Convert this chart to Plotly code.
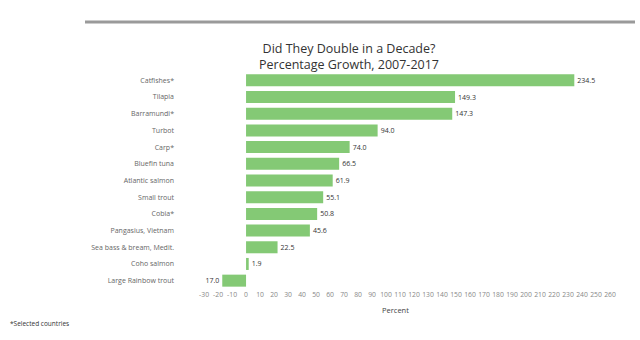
import plotly.graph_objects as go

species = ["Catfishes*", "Tilapia", "Barramundi*", "Turbot", "Carp*", "Bluefin tuna",
           "Atlantic salmon", "Small trout", "Cobia*", "Pangasius, Vietnam",
           "Sea bass & bream, Medit.", "Coho salmon", "Large Rainbow trout"]
growth = [234.5, 149.3, 147.3, 94.0, 74.0, 66.5, 61.9, 55.1, 50.8, 45.6, 22.5, 1.9, -17.0]
tick_vals = list(range(-30, 270, 10))
tick_text = [str(v) for v in tick_vals]

labels = [f"{abs(v):.1f}" for v in growth]

fig = go.Figure(go.Bar(
    x=growth, y=species, orientation="h",
    marker=dict(color="#84C975", line=dict(width=0)),
    text=labels, textposition="outside", cliponaxis=False,
    textfont=dict(size=7, color="#333333", family="Open Sans"),
))

fig.update_layout(
    width=640, height=340,
    margin=dict(l=200, r=23, t=72, b=51),
    paper_bgcolor="white", plot_bgcolor="white",
    bargap=0.28,
    showlegend=False,
    font=dict(family="Open Sans", color="#555555"),
    title=dict(text="Did They Double in a Decade?<br>Percentage Growth, 2007-2017",
               x=349 / 640, xanchor="center", y=1 - 53 / 340, yanchor="middle",
               font=dict(size=12.5, color="#333333", family="Open Sans")),
    xaxis=dict(range=[-32.9, 265], tickvals=tick_vals, ticktext=tick_text,
               showgrid=False, zeroline=False, showline=False, ticks="", tickangle=0,
               tickfont=dict(size=6.8, color="#888888")),
    yaxis=dict(autorange="reversed", showgrid=False, zeroline=False, showline=False,
               ticks="", ticklabelstandoff=25, tickfont=dict(size=7, color="#666666")),
    shapes=[dict(type="line", xref="paper", yref="paper",
                 x0=(85 - 200) / 417, x1=(635 - 200) / 417,
                 y0=(289 - 22) / 217, y1=(289 - 22) / 217,
                 line=dict(color="#9a9a9a", width=3))],
    annotations=[
        dict(text="Percent", xref="paper", yref="paper",
             x=(395 - 200) / 417, y=(289 - 310) / 217, xanchor="center", yanchor="middle",
             showarrow=False, font=dict(size=7.5, color="#444444", family="Open Sans")),
        dict(text="*Selected countries", xref="paper", yref="paper",
             x=(8 - 200) / 417, y=(289 - 323) / 217, xanchor="left", yanchor="middle",
             showarrow=False, font=dict(size=6.5, color="#333333", family="Open Sans")),
    ],
)

fig.write_html("out.html")
